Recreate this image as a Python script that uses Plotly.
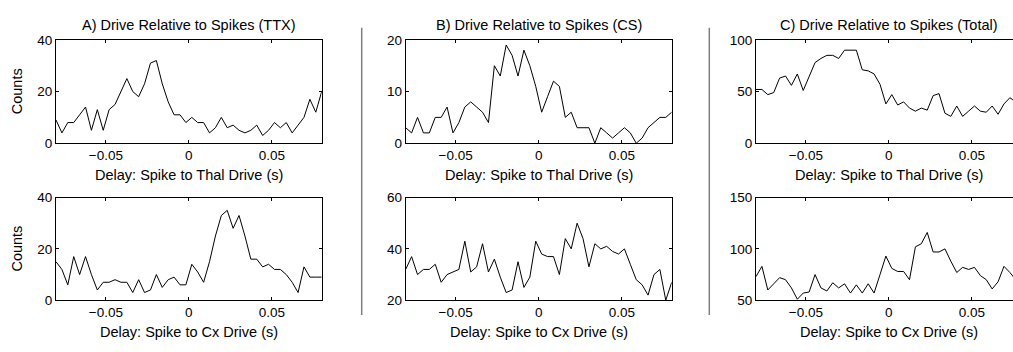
import plotly.graph_objects as go

W, H = 1013, 352

delay = [-0.08, -0.07644, -0.07289, -0.06933, -0.06578, -0.06222, -0.05867, -0.05511,
         -0.05156, -0.048, -0.04444, -0.04089, -0.03733, -0.03378, -0.03022, -0.02667,
         -0.02311, -0.01956, -0.016, -0.01244, -0.00889, -0.00533, -0.00178, 0.00178,
         0.00533, 0.00889, 0.01244, 0.016, 0.01956, 0.02311, 0.02667, 0.03022, 0.03378,
         0.03733, 0.04089, 0.04444, 0.048, 0.05156, 0.05511, 0.05867, 0.06222, 0.06578,
         0.06933, 0.07289, 0.07644, 0.08]

ttx_thal = [9, 4, 8, 8, 11, 14, 5, 13, 5, 13, 15, 20, 25, 20, 18, 23, 31, 32, 23, 16, 11, 11, 8,
            10, 8, 8, 4, 6, 10, 6, 7, 5, 4, 5, 7, 3, 5, 8, 6, 8, 4, 7, 10, 17, 12, 20]
ttx_cx = [15, 12, 6, 17, 10, 17, 10, 4, 7, 7, 8, 7, 7, 3, 8, 3, 4, 10, 5, 8, 9, 6, 6, 14, 11,
          7, 15, 25, 33, 35, 28, 33, 25, 16, 16, 13, 14, 12, 12, 10, 7, 3, 13, 9, 9, 9]
cs_thal = [3, 2, 5, 2, 2, 5, 5, 7, 2, 4, 7, 8, 7, 6, 4, 15, 13, 19, 17, 13, 18, 15, 11, 6, 9,
           12, 11, 5, 6, 3, 3, 3, 0, 3, 2, 1, 2, 3, 2, 0, 1, 3, 4, 5, 5, 6]
cs_cx = [32, 37, 30, 32, 32, 34, 27, 30, 31, 32, 43, 31, 33, 42, 31, 36, 29, 23, 24, 35, 25, 29,
         43, 38, 37, 37, 30, 44, 40, 50, 44, 33, 42, 40, 41, 39, 38, 40, 34, 28, 26, 22, 30, 32,
         20, 27]
tot_thal = [52, 52, 47, 49, 63, 65, 56, 67, 51, 65, 78, 82, 85, 85, 82, 90, 90, 90, 71, 70, 67,
            57, 38, 47, 37, 40, 34, 31, 34, 32, 46, 48, 29, 26, 36, 26, 31, 36, 31, 30, 36, 28,
            38, 44, 40, 38]
tot_cx = [73, 83, 60, 66, 72, 70, 62, 51, 57, 58, 75, 62, 59, 67, 62, 66, 57, 65, 57, 66, 57, 75,
          93, 81, 78, 78, 70, 102, 105, 116, 97, 97, 100, 88, 77, 82, 80, 82, 74, 70, 61, 68, 83,
          77, 70, 65]

titles = ["A) Drive Relative to Spikes (TTX)", "B) Drive Relative to Spikes (CS)",
          "C) Drive Relative to Spikes (Total)"]
xlabels = ["Delay: Spike to Thal Drive (s)", "Delay: Spike to Cx Drive (s)"]
ylabel = "Counts"
xticks = [-0.05, 0, 0.05]
xticklabels = ["\u22120.05", "0", "0.05"]

# panels: (series, y range, y ticks)
panels = [
    [(ttx_thal, [0, 40], [0, 20, 40]), (ttx_cx, [0, 40], [0, 20, 40])],
    [(cs_thal, [0, 20], [0, 10, 20]), (cs_cx, [20, 60], [20, 40, 60])],
    [(tot_thal, [0, 100], [0, 50, 100]), (tot_cx, [50, 150], [50, 100, 150])],
]

FONT = "Liberation Sans, Arial, Helvetica, sans-serif"
TICK_SIZE = 13.5
LAB_SIZE = 14.5

col_px = [(56, 321.7), (405.7, 671.7), (756, 1013)]
row_px = [(34.3, 142.3), (199, 306.3)]
xlab_center_px = [175.0, 339.3]

def fx(px):
    return px / W

def fy(px):
    return (H - px) / H

fig = go.Figure()
annotations = []
shapes = []
n = 0
for c in range(3):
    for r in range(2):
        n += 1
        series, yr, yt = panels[c][r]
        xa = "x" if n == 1 else f"x{n}"
        ya = "y" if n == 1 else f"y{n}"
        fig.add_trace(go.Scatter(x=delay, y=series, mode="lines",
                                 line=dict(color="black", width=1),
                                 xaxis=xa, yaxis=ya, showlegend=False, hoverinfo="skip"))
        x0, x1 = col_px[c]
        y0, y1 = row_px[r]
        if c == 2:
            xrange = [-0.08, -0.08 + 0.16 * (x1 - x0) / 265.7]
        else:
            xrange = [-0.08, 0.08]
        xkey = "xaxis" if n == 1 else f"xaxis{n}"
        ykey = "yaxis" if n == 1 else f"yaxis{n}"
        fig.layout[xkey] = dict(
            domain=[fx(x0), fx(x1)], anchor=ya, range=xrange,
            tickmode="array", tickvals=xticks, ticktext=xticklabels,
            ticks="inside", ticklen=3, tickwidth=1, tickcolor="black",
            showline=True, linecolor="black", linewidth=1, mirror="ticks",
            showgrid=False, zeroline=False,
            tickfont=dict(family=FONT, size=TICK_SIZE, color="black"),
            fixedrange=True,
        )
        fig.layout[ykey] = dict(
            domain=[fy(y1), fy(y0)], anchor=xa, range=yr,
            tickmode="array", tickvals=yt,
            ticks="inside", ticklen=3, tickwidth=1, tickcolor="black",
            showline=True, linecolor="black", linewidth=1,
            mirror=(False if c == 2 else "ticks"),
            showgrid=False, zeroline=False,
            tickfont=dict(family=FONT, size=TICK_SIZE, color="black"),
            fixedrange=True,
        )
        # x label
        annotations.append(dict(text=xlabels[r], xref="paper", yref="paper",
                                x=fx((col_px[c][0] + col_px[c][0] + 265.7) / 2),
                                y=fy(xlab_center_px[r]), xanchor="center", yanchor="middle",
                                showarrow=False,
                                font=dict(family=FONT, size=LAB_SIZE, color="black")))
        if c == 0:
            annotations.append(dict(text=ylabel, xref="paper", yref="paper",
                                    x=fx(16.7), y=fy((y0 + y1) / 2),
                                    xanchor="center", yanchor="middle", textangle=-90,
                                    showarrow=False,
                                    font=dict(family=FONT, size=LAB_SIZE, color="black")))
    # title
    annotations.append(dict(text=titles[c], xref="paper", yref="paper",
                            x=fx((col_px[c][0] + col_px[c][0] + 265.7) / 2), y=fy(19.0),
                            xanchor="center", yanchor="middle", showarrow=False,
                            font=dict(family=FONT, size=LAB_SIZE, color="black")))

for sx in [361.7, 709.3]:
    shapes.append(dict(type="line", xref="paper", yref="paper",
                       x0=fx(sx), x1=fx(sx), y0=fy(21.7), y1=fy(321.7),
                       line=dict(color="#7f7f7f", width=1.5)))

fig.update_layout(width=W, height=H, margin=dict(l=0, r=0, t=0, b=0),
                  paper_bgcolor="white", plot_bgcolor="white",
                  annotations=annotations, shapes=shapes)

fig.write_html("out.html", config={"displayModeBar": False})
